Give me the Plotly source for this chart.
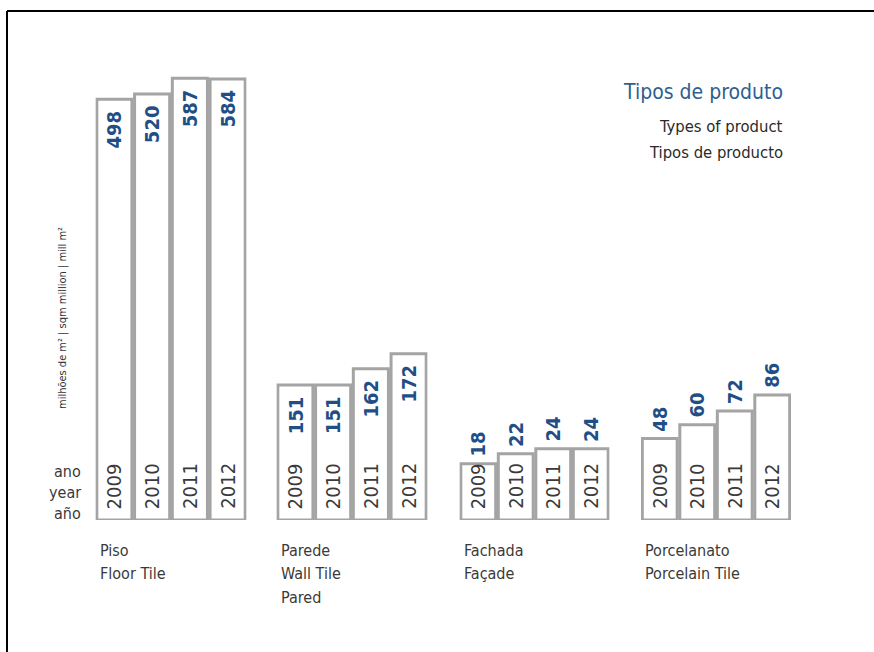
import plotly.graph_objects as go

# Production by product type, million m² per year
years = ["2009", "2010", "2011", "2012"]
floor_tile = [498, 520, 587, 584]
wall_tile = [151, 151, 162, 172]
facade = [18, 22, 24, 24]
porcelain = [48, 60, 72, 86]

group_values = [floor_tile, wall_tile, facade, porcelain]
group_labels = [
    ["Piso", "Floor Tile"],
    ["Parede", "Wall Tile", "Pared"],
    ["Fachada", "Façade"],
    ["Porcelanato", "Porcelain Tile"],
]
legend_lines = ["Tipos de produto", "Types of product", "Tipos de producto"]
year_caption = ["ano", "year", "año"]
unit_caption = "milhões de m² | sqm million | mill m²"

W, H = 874, 652
FONT = "Liberation Sans Narrow, Arial Narrow, DejaVu Sans Condensed, sans-serif"
FONT_BOLD = "DejaVu Sans Condensed, sans-serif"
BLUE = "#1f4f86"
GREY_TXT = "#3a3a3a"
OUTLINE = "#a4a4a4"


def px(x):
    return x / W


def py(y):
    return 1 - y / H


# each group gets its own panel and value scale
x_domains = [(95.5, 246.5), (276.5, 427.5), (459.5, 609.5), (641, 791)]
y_ranges = [(-1297, 665), (59.5, 371), (-4.5, 179.5), (-23, 378)]
labels_inside = [True, True, False, False]
base_px, top_px = 520, 60

fig = go.Figure()
annotations = []

for g, vals in enumerate(group_values):
    sfx = "" if g == 0 else str(g + 1)
    xa, ya = "x" + sfx, "y" + sfx
    lo = y_ranges[g][0]
    # bars rise from the panel floor and end at the value
    fig.add_trace(go.Bar(
        x=list(range(len(years))), y=[v - lo for v in vals], base=lo, width=0.93,
        marker=dict(color="white", line=dict(color=OUTLINE, width=3)),
        xaxis=xa, yaxis=ya, hoverinfo="skip", showlegend=False,
    ))
    fig.update_layout(**{
        "xaxis" + sfx: dict(domain=[px(x_domains[g][0]), px(x_domains[g][1])],
                            range=[-0.5, 3.5], visible=False, anchor=ya, fixedrange=True),
        "yaxis" + sfx: dict(domain=[py(base_px), py(top_px)], range=list(y_ranges[g]),
                            visible=False, anchor=xa, fixedrange=True),
    })
    for i, v in enumerate(vals):
        # value label
        annotations.append(dict(
            x=i, y=v, xref=xa, yref=ya, text="<b>%d</b>" % v,
            textangle=-90, showarrow=False,
            yanchor="top" if labels_inside[g] else "bottom",
            yshift=-9 if labels_inside[g] else 5,
            font=dict(family=FONT_BOLD, size=20, color=BLUE),
        ))
        # year label at the foot of the bar
        annotations.append(dict(
            x=i, y=lo, xref=xa, yref=ya, text=years[i],
            textangle=-90, showarrow=False, yanchor="bottom", yshift=9,
            font=dict(family=FONT, size=20, color=GREY_TXT),
        ))
    # category caption under each group
    for k, line in enumerate(group_labels[g]):
        annotations.append(dict(
            x=px(x_domains[g][0] + 2), y=py(550 + 23.5 * k), xref="paper", yref="paper",
            text=line, showarrow=False, xanchor="left", yanchor="middle",
            font=dict(family=FONT, size=16, color=GREY_TXT),
        ))

# heading at the top right
annotations.append(dict(
    x=px(785), y=py(92), xref="paper", yref="paper", text=legend_lines[0],
    showarrow=False, xanchor="right", yanchor="middle",
    font=dict(family=FONT, size=21, color="#2f5f92"),
))
for k, line in enumerate(legend_lines[1:]):
    annotations.append(dict(
        x=px(785), y=py(126 + 26 * k), xref="paper", yref="paper", text=line,
        showarrow=False, xanchor="right", yanchor="middle",
        font=dict(family=FONT, size=16.5, color="#2a2a2a"),
    ))

# year caption on the left
for k, line in enumerate(year_caption):
    annotations.append(dict(
        x=px(83), y=py(471 + 21 * k), xref="paper", yref="paper", text=line,
        showarrow=False, xanchor="right", yanchor="middle",
        font=dict(family=FONT, size=16, color=GREY_TXT),
    ))

# unit caption, vertical
annotations.append(dict(
    x=px(62), y=py(318), xref="paper", yref="paper", text=unit_caption,
    textangle=-90, showarrow=False, xanchor="center", yanchor="middle",
    font=dict(family=FONT, size=11, color="#333333"),
))

# frame lines along the top and left
shapes = [
    dict(type="line", xref="paper", yref="paper", x0=px(7), x1=1.01, y0=py(11), y1=py(11),
         line=dict(color="black", width=2)),
    dict(type="line", xref="paper", yref="paper", x0=px(7), x1=px(7), y0=py(11), y1=-0.01,
         line=dict(color="black", width=2)),
]

fig.update_layout(
    width=W, height=H, margin=dict(l=0, r=0, t=0, b=0),
    paper_bgcolor="white", plot_bgcolor="white",
    annotations=annotations, shapes=shapes, showlegend=False,
)

fig.write_html("out.html", config={"displayModeBar": False})
